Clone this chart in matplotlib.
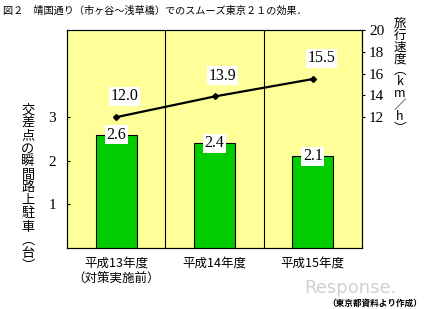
import numpy as np
import matplotlib
matplotlib.use("Agg")
import matplotlib.pyplot as plt

# data
categories = ['平成13年度\n（対策実施前）', '平成14年度', '平成15年度']
parking = [2.6, 2.4, 2.1]          # 交差点の瞬間路上駐車（台）
speed = [12.0, 13.9, 15.5]         # 旅行速度（km/h）
left_ticks = [1, 2, 3]
right_ticks = [12, 14, 16, 18, 20]

jp = ['Noto Sans CJK JP', 'DejaVu Sans']
num = 'Liberation Serif'

fig = plt.figure(figsize=(4.24, 3.09), dpi=100)
ax = fig.add_axes([67/424, 1 - 248/309, 295/424, 218/309])
ax.set_facecolor('#FFFF99')
x = np.arange(len(categories))

ax.bar(x, parking, width=0.42, color='#00CC00', edgecolor='black', linewidth=0.8, zorder=3)
ax.set_xlim(-0.5, 2.5)
ax.set_ylim(0, 5)
for sep in [0.5, 1.5]:
    ax.axvline(sep, color='black', linewidth=0.8, zorder=2)

ax.set_yticks(left_ticks)
ax.set_yticklabels([str(t) for t in left_ticks], fontfamily=num, fontsize=11)
ax.tick_params(axis='y', direction='in', length=2, width=0.8, pad=8)
ax.set_xticks(x)
ax.set_xticklabels(categories, fontfamily=jp, fontsize=9, linespacing=1.3, va='top')
ax.tick_params(axis='x', length=0, pad=6)
for s in ax.spines.values():
    s.set_linewidth(0.8)

for xi, v in zip(x, parking):
    ax.text(xi, v, f'{v:.1f}', ha='center', va='center', fontfamily=num, fontsize=11.5,
            bbox=dict(boxstyle='square,pad=0.1', fc='white', ec='none'), zorder=5)

ax2 = ax.twinx()
ax2.set_ylim(0, 20)
ax2.plot(x, speed, color='black', linewidth=1.6, marker='D', markersize=3, zorder=4)
ax2.set_yticks(right_ticks)
ax2.set_yticklabels([str(t) for t in right_ticks], fontfamily=num, fontsize=11)
ax2.tick_params(axis='y', direction='out', length=2, width=0.8, pad=3)
for xi, v in zip(x, speed):
    ax2.annotate(f'{v:.1f}', (xi, v), xytext=(6, 15), textcoords='offset points',
                 ha='center', va='center', fontfamily=num, fontsize=11.5,
                 bbox=dict(boxstyle='square,pad=0.1', fc='white', ec='none'))

# vertical axis titles
left_label = '交差点の瞬間路上駐車︵台︶'
right_label = '旅行速度︵km／h︶'
fig.text(28/424, 1 - 188/309, '\n'.join(left_label), ha='center', va='center',
         fontfamily=jp, fontsize=9.5, linespacing=1.0)
fig.text(400/424, 1 - 76/309, '\n'.join(right_label), ha='center', va='center',
         fontfamily=jp, fontsize=9, linespacing=0.86)

fig.text(3/424, 1 - 11/309, '図２　靖国通り（市ヶ谷〜浅草橋）でのスムーズ東京２１の効果．',
         ha='left', va='center', fontfamily=jp, fontsize=7.3)
fig.text(350/424, 1 - 288/309, 'Response.', ha='center', va='center',
         fontfamily='DejaVu Sans', fontsize=13, color='#D0D0D0')
fig.text(375/424, 1 - 303/309, '（東京都資料より作成）', ha='center', va='center',
         fontfamily=jp, fontsize=6.2, fontweight='bold')

fig.savefig('out.png', dpi=100)
